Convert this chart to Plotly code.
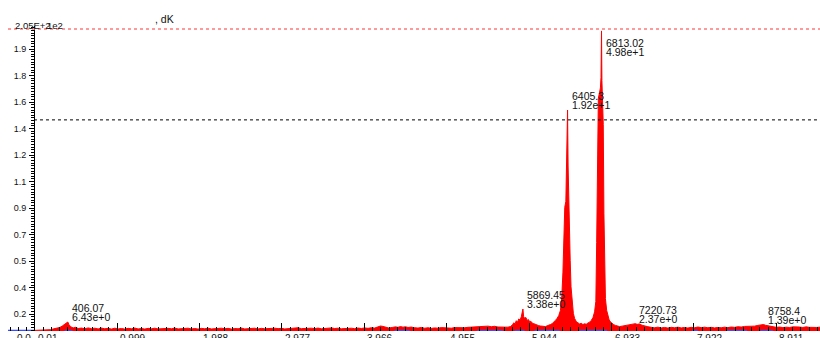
import numpy as np
import plotly.graph_objects as go

# ---- spectrum, (mass in kDa, intensity) per region ----
low_mass_region = [
    (0.00, 0.4), (0.05, 0.5), (0.10, 0.4), (0.15, 0.7), (0.20, 0.9), (0.24, 1.5),
    (0.28, 1.8), (0.31, 2.4), (0.34, 3.4), (0.37, 4.9), (0.39, 5.5), (0.40607, 6.1),
    (0.42, 4.3), (0.44, 2.9), (0.47, 2.1), (0.50, 2.5), (0.53, 1.7), (0.57, 2.0),
    (0.61, 1.5), (0.65, 2.1), (0.69, 1.6), (0.73, 1.9), (0.77, 1.4), (0.81, 2.0),
    (0.85, 1.5), (0.89, 1.8), (0.93, 1.3), (0.97, 1.9), (1.01, 1.4), (1.05, 1.7),
    (1.09, 1.3), (1.13, 1.8), (1.17, 1.5), (1.21, 2.0), (1.25, 1.4), (1.29, 1.7),
    (1.33, 1.3), (1.37, 1.8), (1.41, 1.5), (1.45, 1.9), (1.49, 1.4), (1.53, 1.6),
    (1.57, 1.3), (1.61, 1.8), (1.65, 1.5), (1.69, 2.0), (1.73, 1.4), (1.77, 1.7),
    (1.81, 1.5), (1.85, 1.9), (1.89, 1.4), (1.93, 1.7), (1.97, 1.3), (2.01, 1.8),
    (2.05, 1.5), (2.09, 1.9), (2.13, 1.4), (2.17, 1.6), (2.21, 1.4), (2.25, 1.9),
    (2.29, 1.5), (2.33, 1.8), (2.37, 1.3), (2.41, 1.7), (2.45, 1.5), (2.49, 2.0),
    (2.53, 1.4), (2.57, 1.7), (2.61, 1.5), (2.65, 1.9), (2.69, 1.4), (2.73, 1.8),
    (2.77, 1.5), (2.81, 1.7), (2.85, 1.4), (2.89, 1.9), (2.93, 1.6), (2.97, 1.8),
    (3.01, 1.4), (3.05, 1.7), (3.09, 1.5), (3.13, 2.0), (3.17, 2.2), (3.21, 1.6),
    (3.25, 1.8), (3.29, 1.5), (3.33, 1.9), (3.37, 1.6), (3.41, 2.0), (3.45, 1.5),
    (3.49, 1.8), (3.53, 1.6), (3.57, 2.1), (3.61, 1.7), (3.65, 1.9), (3.69, 1.5),
    (3.73, 1.8), (3.77, 1.7),
]

mid_mass_region = [
    (3.81, 1.9), (3.85, 1.6), (3.89, 2.0), (3.93, 1.7), (3.97, 2.1), (4.01, 1.8),
    (4.05, 2.2), (4.09, 2.0), (4.13, 2.6), (4.16, 3.4), (4.19, 3.1), (4.22, 2.4),
    (4.26, 2.0), (4.30, 2.4), (4.34, 2.8), (4.37, 2.5), (4.40, 3.0), (4.43, 2.6),
    (4.46, 2.9), (4.49, 2.4), (4.53, 2.7), (4.57, 2.2), (4.61, 2.0), (4.65, 2.4),
    (4.69, 1.9), (4.73, 2.2), (4.77, 1.8), (4.81, 2.1), (4.85, 1.9), (4.89, 2.3),
    (4.93, 2.0), (4.97, 2.2), (5.01, 1.9), (5.05, 2.3), (5.09, 2.1), (5.13, 2.4),
    (5.17, 2.2), (5.21, 2.5), (5.25, 2.6), (5.29, 2.9), (5.33, 3.1), (5.37, 3.4),
    (5.41, 3.0), (5.45, 3.3), (5.49, 2.9), (5.53, 3.2), (5.57, 2.7), (5.61, 2.5),
    (5.65, 2.3), (5.69, 2.6), (5.72, 3.0),
]

cluster_region = [
    (5.745, 4.2), (5.76, 5.6), (5.775, 4.8), (5.79, 7.0), (5.805, 6.0), (5.82, 8.2),
    (5.835, 7.4), (5.85, 9.6), (5.86, 11.5), (5.86945, 14.9), (5.878, 9.8), (5.89, 8.6),
    (5.905, 9.2), (5.92, 7.2), (5.935, 7.8), (5.95, 6.3), (5.965, 6.6), (5.98, 5.4),
    (6.00, 5.0), (6.02, 4.4), (6.04, 4.0), (6.06, 3.6), (6.08, 3.4), (6.10, 3.1),
    (6.12, 3.3), (6.14, 3.0), (6.16, 3.5), (6.18, 3.8), (6.20, 4.4), (6.22, 5.0),
    (6.24, 5.8), (6.26, 7.2), (6.28, 8.6),
]

main_peak_region = [
    (6.30, 10.5), (6.32, 14.0), (6.335, 22.0), (6.35, 40.0), (6.36, 62.0), (6.372, 84.0),
    (6.385, 88.0), (6.395, 118.0), (6.4053, 150.0), (6.412, 112.0), (6.42, 86.0),
    (6.428, 72.0), (6.437, 48.0), (6.447, 30.0), (6.46, 19.0), (6.475, 12.0),
    (6.49, 8.5), (6.51, 6.4), (6.53, 5.6), (6.55, 4.8), (6.57, 5.2), (6.59, 4.4),
    (6.61, 4.9), (6.63, 4.6), (6.65, 5.4), (6.67, 6.0), (6.69, 7.2), (6.71, 9.0),
    (6.73, 13.0), (6.745, 20.0), (6.755, 60.0), (6.765, 130.0), (6.775, 158.0),
    (6.79, 162.0), (6.80, 165.0), (6.807, 172.0), (6.81302, 203.7), (6.818, 170.0),
    (6.826, 160.0), (6.834, 140.0), (6.842, 80.0), (6.85, 40.0), (6.86, 22.0),
    (6.875, 14.0), (6.89, 9.5), (6.905, 7.5), (6.92, 6.2), (6.94, 5.0), (6.96, 4.3),
    (6.98, 3.8),
]

high_mass_region = [
    (7.00, 3.4), (7.03, 3.0), (7.06, 3.3), (7.09, 3.6), (7.12, 3.9), (7.15, 4.4),
    (7.18, 4.7), (7.22073, 5.0), (7.24, 4.5), (7.27, 4.8), (7.30, 3.9), (7.33, 3.3),
    (7.37, 2.9), (7.41, 2.5), (7.45, 2.2), (7.49, 2.6), (7.53, 2.1), (7.57, 2.4),
    (7.61, 2.0), (7.65, 2.5), (7.69, 2.2), (7.73, 2.6), (7.77, 2.1), (7.81, 2.4),
    (7.85, 2.0), (7.89, 2.5), (7.93, 2.2), (7.97, 2.7), (8.01, 2.3), (8.05, 2.6),
    (8.09, 2.2), (8.13, 2.5), (8.17, 2.1), (8.21, 2.4), (8.25, 2.2), (8.29, 2.6),
    (8.33, 2.3), (8.37, 2.7), (8.41, 2.5), (8.45, 2.9), (8.49, 2.7), (8.53, 3.1),
    (8.57, 3.0), (8.61, 3.4), (8.65, 3.3), (8.69, 3.8), (8.73, 4.0), (8.7584, 4.4),
    (8.78, 3.9), (8.81, 3.6), (8.84, 3.2), (8.87, 2.8), (8.91, 2.5), (8.95, 2.7),
    (8.99, 2.3), (9.03, 2.6), (9.07, 2.4), (9.11, 2.8), (9.15, 2.5), (9.19, 2.7),
    (9.23, 2.4), (9.27, 2.8), (9.31, 2.5), (9.35, 2.7), (9.39, 2.4), (9.44, 2.6),
]

# baseline trace segments (kDa start, kDa end)
baseline_segments = [
    (-0.312, 0.0), (0.37, 0.46), (4.33, 4.51), (5.32, 5.63), (5.77, 5.89),
    (6.01, 6.31), (6.55, 6.88), (7.90, 7.97), (8.32, 8.56), (8.72, 8.87),
]

# labelled peaks
peak_mz = [406.07, 5869.45, 6405.3, 6813.02, 7220.73, 8758.4]
peak_mz_text = ["406.07", "5869.45", "6405.3", "6813.02", "7220.73", "8758.4"]
peak_value_text = ["6.43e+0", "3.38e+0", "1.92e+1", "4.98e+1", "2.37e+0", "1.39e+0"]

# axes
x_range = [-0.312, 9.436]
x_major_ticks = [0.01, 0.999, 1.988, 2.977, 3.966, 4.955, 5.944, 6.933, 7.922, 8.911]
x_major_labels = ["0.01", "0.999", "1.988", "2.977", "3.966", "4.955", "5.944",
                  "6.933", "7.922", "8.911"]
x_half_ticks = [0.5045, 1.4935, 2.4825, 3.4715, 4.4605, 5.4495, 6.4385, 7.4275,
                8.4165, 9.4055]
x_minor_step = 0.0989

y_top = 205.0
y_range = [0, 207.03]
y_tick_vals = [191.4, 173.4, 155.4, 137.4, 119.4, 101.4, 83.4, 65.4, 47.4, 29.4, 11.4]
y_tick_text = ["1.9", "1.8", "1.6", "1.4", "1.2", "1.1", "0.9", "0.7", "0.5", "0.4", "0.2"]
y_minor_step = 1.8
threshold_level = 143.3

FONT = "Liberation Sans, Arial, sans-serif"

spectrum = low_mass_region + mid_mass_region + cluster_region + main_peak_region + high_mass_region
mass = np.array([p[0] for p in spectrum])
intensity = np.array([p[1] for p in spectrum])

bx, by = [], []
for a, b in baseline_segments:
    bx += [a, b, None]
    by += [0.35, 0.35, None]

fig = go.Figure()
fig.add_trace(go.Scatter(
    x=mass, y=intensity, mode="lines", fill="tozeroy",
    line=dict(color="#ff0000", width=1), fillcolor="#ff0000", hoverinfo="skip",
))
fig.add_trace(go.Scatter(
    x=bx, y=by, mode="lines", line=dict(color="#3a4cff", width=1.5), hoverinfo="skip",
))

annotations = []
# peak labels: m/z line above the intensity line
label_cap = 186.0
label_font = dict(family=FONT, size=10.5, color="#111111")
for mz, t1, t2 in zip(peak_mz, peak_mz_text, peak_value_text):
    xk = mz / 1000.0
    h = float(np.interp(xk, mass, intensity))
    base = min(h, label_cap)
    annotations.append(dict(x=xk, y=base, xref="x", yref="y", text=t2, showarrow=False,
                            xanchor="left", yanchor="bottom", xshift=2, yshift=-3,
                            font=label_font))
    annotations.append(dict(x=xk, y=base, xref="x", yref="y", text=t1, showarrow=False,
                            xanchor="left", yanchor="bottom", xshift=2, yshift=6,
                            font=label_font))

# x tick labels, left-aligned on their ticks
tick_font = dict(family=FONT, size=10, color="#111111")
for v, t in zip(x_major_ticks, x_major_labels):
    annotations.append(dict(x=v, y=0, xref="x", yref="y", text=t, showarrow=False,
                            xanchor="left", yanchor="top", xshift=1, yshift=0,
                            font=tick_font))
annotations.append(dict(x=-0.208, y=0, xref="x", yref="y", text="0.0", showarrow=False,
                        xanchor="left", yanchor="top", xshift=-2, yshift=0,
                        font=tick_font))

# top-of-scale and unit captions
annotations.append(dict(x=0.0058, y=y_top, xref="paper", yref="y", text="2.05E+2",
                        showarrow=False, xanchor="left", yanchor="bottom", yshift=-4,
                        font=dict(family=FONT, size=9.5, color="#111111")))
annotations.append(dict(x=0.0455, y=y_top, xref="paper", yref="y", text="1e2",
                        showarrow=False, xanchor="left", yanchor="bottom", yshift=-4,
                        font=dict(family=FONT, size=9.5, color="#111111")))
annotations.append(dict(x=0.1785, y=y_top, xref="paper", yref="y", text=", dK",
                        showarrow=False, xanchor="left", yanchor="bottom", yshift=2,
                        font=dict(family=FONT, size=10.5, color="#111111")))

shapes = [
    dict(type="line", xref="paper", yref="y", x0=0, x1=1, y0=y_top, y1=y_top,
         line=dict(color="#ff7a7a", width=1.5, dash="dot")),
    dict(type="line", xref="x", yref="y", x0=0, x1=x_range[1], y0=threshold_level,
         y1=threshold_level, line=dict(color="#000000", width=1, dash="dot")),
]

fig.update_layout(
    width=820, height=338,
    margin=dict(l=8, r=0, t=26, b=7),
    paper_bgcolor="white", plot_bgcolor="white",
    showlegend=False,
    annotations=annotations,
    shapes=shapes,
    xaxis=dict(
        range=x_range, tickmode="array", tickvals=x_major_ticks, showticklabels=False,
        ticks="inside", ticklen=8, tickwidth=1, tickcolor="#000000",
        minor=dict(tick0=0.01, dtick=x_minor_step, ticks="inside", ticklen=4,
                   tickwidth=1, tickcolor="#000000"),
        showgrid=False, zeroline=False, showline=False, layer="above traces",
    ),
    xaxis2=dict(
        range=x_range, overlaying="x", anchor="y", side="bottom",
        tickmode="array", tickvals=x_half_ticks, showticklabels=False,
        ticks="inside", ticklen=6, tickwidth=1, tickcolor="#000000",
        showgrid=False, zeroline=False, showline=False,
    ),
    yaxis=dict(
        range=y_range, anchor="free", position=(0 - x_range[0]) / (x_range[1] - x_range[0]),
        tickmode="array", tickvals=y_tick_vals, ticktext=y_tick_text,
        ticks="outside", ticklen=5, tickwidth=1, tickcolor="#000000",
        minor=dict(tick0=11.4, dtick=y_minor_step, ticks="outside", ticklen=3,
                   tickwidth=1, tickcolor="#000000"),
        tickfont=dict(family=FONT, size=9, color="#111111"),
        showgrid=False, zeroline=False, showline=True, linecolor="#000000", linewidth=1,
        ticklabelstandoff=1,
    ),
)

fig.write_html("out.html")
